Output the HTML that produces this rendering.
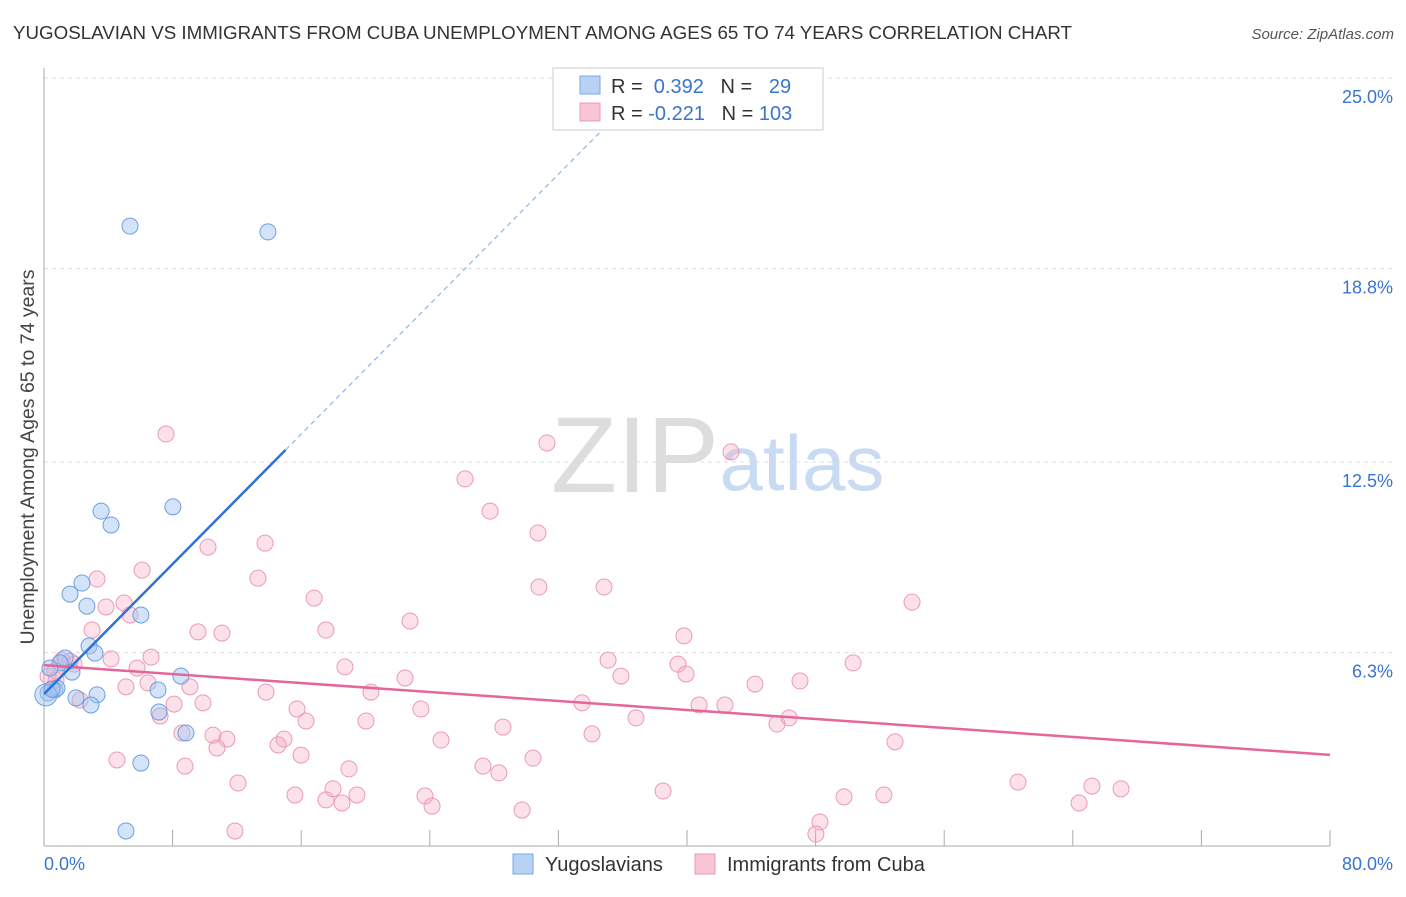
<!DOCTYPE html>
<html><head><meta charset="utf-8"><style>
body{margin:0;background:#fff;font-family:"Liberation Sans",sans-serif;}
svg text{font-family:"Liberation Sans",sans-serif;}
</style></head><body>
<svg id="chart" width="1406" height="892" xmlns="http://www.w3.org/2000/svg">
<text x="13" y="39" font-size="18.6" fill="#333" textLength="1059" lengthAdjust="spacingAndGlyphs">YUGOSLAVIAN VS IMMIGRANTS FROM CUBA UNEMPLOYMENT AMONG AGES 65 TO 74 YEARS CORRELATION CHART</text>
<text x="1394" y="39" font-size="15" fill="#555" text-anchor="end" font-style="italic">Source: ZipAtlas.com</text>
<text transform="translate(34,457) rotate(-90)" font-size="19.5" fill="#444" text-anchor="middle">Unemployment Among Ages 65 to 74 years</text>
<g>
<text x="635" y="492" font-size="108" fill="#ddd" text-anchor="middle" font-family="Liberation Serif,serif">ZIP</text>
<text x="802" y="490" font-size="78" fill="#c8dbf3" text-anchor="middle">atlas</text>
</g>
<g id="grid"></g>
<g id="axes"></g>
<g id="pts"></g>
<g id="lines"></g>
<g>
<rect x="553" y="68" width="270" height="62" fill="#fff" stroke="#ccc"/>
<rect x="580" y="76" width="20" height="18" fill="#b8d2f5" stroke="#7aa8e6"/>
<text x="611" y="93" font-size="20" fill="#333">R = <tspan fill="#3a74d0">&#160;0.392</tspan>&#160;&#160;&#160;N = <tspan fill="#3a74d0">&#160;&#160;29</tspan></text>
<rect x="580" y="103" width="20" height="18" fill="#f9c5d5" stroke="#eb9ab7"/>
<text x="611" y="120" font-size="20" fill="#333">R = <tspan fill="#3a74d0">-0.221</tspan>&#160;&#160;&#160;N = <tspan fill="#3a74d0">103</tspan></text>
</g>
<g>
<rect x="513" y="854" width="20" height="20" fill="#b8d2f5" stroke="#7aa8e6"/>
<text x="545" y="871" font-size="20" fill="#333">Yugoslavians</text>
<rect x="695" y="854" width="20" height="20" fill="#f9c5d5" stroke="#eb9ab7"/>
<text x="727" y="871" font-size="20" fill="#333">Immigrants from Cuba</text>
</g>
</svg>
<script>
const yTicks=[6.3,12.5,18.8,25.0];
const xTickLabels=["0.0%","80.0%"];
const blueX=[5.35,13.93,3.55,4.17,8.02,1.62,2.36,2.67,6.03,2.8,3.17,1.31,1.0,1.74,0.37,0.68,0.25,0.81,3.3,1.99,2.92,8.52,7.09,7.15,8.83,6.03,5.1,0.12,0.5];
const blueY=[20.18,19.99,10.9,10.45,11.04,8.2,8.56,7.81,7.52,6.51,6.28,6.12,5.96,5.66,5.79,5.08,4.98,5.14,4.92,4.82,4.59,5.53,5.08,4.36,3.68,2.7,0.49,4.92,5.1];
const pinkX=[7.59,31.29,42.74,26.19,27.75,30.73,10.2,13.75,6.1,13.31,3.3,30.79,34.84,16.8,54.0,4.98,3.86,5.35,22.77,2.99,9.58,17.54,11.07,39.81,6.66,4.17,35.09,39.44,50.33,1.62,1.0,18.72,5.79,0.68,39.94,35.89,22.46,44.23,47.03,5.1,9.08,13.81,20.34,6.47,2.24,9.89,33.47,8.09,15.74,40.75,42.36,23.45,16.3,36.83,7.22,20.03,28.55,46.35,45.6,10.51,11.38,8.58,14.93,24.7,34.09,52.94,10.76,14.56,15.99,4.54,8.77,30.42,18.97,27.31,28.3,12.07,60.59,65.19,67.0,17.98,15.61,19.47,17.54,23.7,38.51,49.77,52.25,18.54,24.14,64.39,29.74,48.27,11.88,48.02,0.5,0.25,0.75,1.12,1.87];
const pinkY=[13.41,13.12,12.83,11.95,10.9,10.19,9.73,9.86,8.98,8.72,8.69,8.43,8.43,8.07,7.94,7.91,7.78,7.52,7.32,7.03,6.97,7.03,6.93,6.84,6.15,6.09,6.05,5.92,5.96,6.02,5.96,5.83,5.79,5.7,5.6,5.53,5.47,5.27,5.37,5.18,5.18,5.01,5.01,5.31,4.75,4.66,4.66,4.62,4.46,4.59,4.59,4.46,4.07,4.17,4.23,4.07,3.87,4.17,3.97,3.61,3.48,3.68,3.48,3.45,3.65,3.39,3.19,3.29,2.96,2.8,2.6,2.86,2.51,2.6,2.38,2.05,2.08,1.95,1.86,1.86,1.66,1.66,1.5,1.63,1.79,1.6,1.66,1.4,1.3,1.4,1.17,0.78,0.49,0.39,5.14,5.53,5.4,6.05,5.92];
const NS="http://www.w3.org/2000/svg";
const X0=44,X1=1330,Y0=846,Y25=78;
const sx=v=>X0+(X1-X0)*v/80;
const sy=v=>Y0-(Y0-Y25)*v/25;
function mk(tag,attrs,parent){const e=document.createElementNS(NS,tag);for(const k in attrs)e.setAttribute(k,attrs[k]);parent.appendChild(e);return e;}
const grid=document.getElementById('grid'),axes=document.getElementById('axes'),pts=document.getElementById('pts'),lines=document.getElementById('lines');
yTicks.forEach(t=>{
  const l=mk('line',{x1:X0,x2:1395,y1:sy(t),y2:sy(t),stroke:'#ddd','stroke-dasharray':'4,4'},grid);
  
  
  const tx=mk('text',{x:1393,y:sy(t)+25,'font-size':18,fill:'#3a74d0','text-anchor':'end'},grid);
  tx.textContent=t.toFixed(1)+'%';
  
  
});
const ax=mk('line',{x1:X0,x2:X1,y1:Y0,y2:Y0,stroke:'#aaa'},axes);


const ay=mk('line',{x1:X0,x2:X0,y1:68,y2:Y0,stroke:'#aaa'},axes);


for(let v=8;v<=80;v+=8){
  const tk=mk('line',{x1:sx(v),x2:sx(v),y1:830,y2:Y0,stroke:'#aaa'},axes);
  
  
}
[[0,'start',44],[80,'end',1393]].forEach((a,i)=>{
  const tx=mk('text',{x:a[2],y:870,'font-size':18,fill:'#3a74d0','text-anchor':a[1]},axes);
  tx.textContent=xTickLabels[i];
  
  
});
pinkX.forEach((x,i)=>{
  const c=mk('circle',{cx:sx(x),cy:sy(pinkY[i]),r:8,fill:'rgba(246,170,196,0.35)',stroke:'#eb9ab7','stroke-width':1},pts);
  
  
});
blueX.forEach((x,i)=>{
  const c=mk('circle',{cx:sx(x),cy:sy(blueY[i]),r:i==27?11:8,fill:'rgba(160,195,240,0.45)',stroke:'#6e9fe0','stroke-width':1},pts);
  
  
});
function reg(xs,ys){const n=xs.length;let mx=0,my=0;for(let i=0;i<n;i++){mx+=xs[i];my+=ys[i];}mx/=n;my/=n;let sxy=0,sxx=0;for(let i=0;i<n;i++){sxy+=(xs[i]-mx)*(ys[i]-my);sxx+=(xs[i]-mx)**2;}const b=sxy/sxx;return [my-b*mx,b];}
const [pa,pb]=reg(pinkX,pinkY);
const pl=mk('line',{x1:sx(0),y1:sy(pa),x2:sx(80),y2:sy(pa+pb*80),stroke:'#e4669a','stroke-width':2.5},lines);


const [ba,bb]=reg(blueX,blueY);
const bmax=Math.max(...blueX)+1.1;
const bl=mk('line',{x1:sx(0),y1:sy(ba),x2:sx(bmax),y2:sy(ba+bb*bmax),stroke:'#2f72d6','stroke-width':2.5},lines);


const xe=(25-ba)/bb;
const bd=mk('line',{x1:sx(bmax),y1:sy(ba+bb*bmax),x2:sx(xe),y2:sy(25),stroke:'#8fb4ea','stroke-width':1.2,'stroke-dasharray':'5,4'},lines);


</script>
</body></html>
